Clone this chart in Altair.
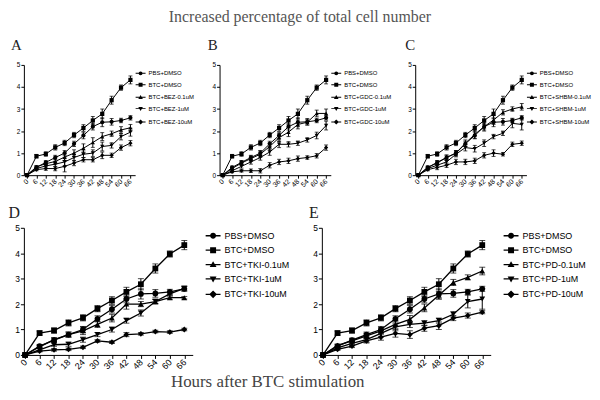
import altair as alt
import pandas as pd

hours = [0, 6, 12, 18, 24, 30, 36, 42, 48, 54, 60, 66]

# shared controls
pbs_dmso     = [0, 0.35, 0.58, 0.80, 1.00, 1.42, 1.80, 2.20, 2.40, 2.42, 2.48, 2.60]
pbs_dmso_err = [0, 0.06, 0.08, 0.10, 0.12, 0.12, 0.15, 0.15, 0.20, 0.15, 0.10, 0.10]
btc_dmso     = [0, 0.86, 0.96, 1.26, 1.46, 1.82, 2.14, 2.48, 2.78, 3.40, 3.97, 4.32]
btc_dmso_err = [0, 0.08, 0.10, 0.12, 0.12, 0.12, 0.15, 0.18, 0.22, 0.18, 0.12, 0.18]

# A: BEZ
bez_01     = [0, 0.38, 0.52, 0.62, 0.82, 1.00, 1.22, 1.48, 1.75, 1.88, 2.05, 2.15]
bez_01_err = [0, 0.06, 0.10, 0.12, 0.15, 0.15, 0.20, 0.22, 0.18, 0.12, 0.15, 0.15]
bez_1      = [0, 0.30, 0.42, 0.50, 0.60, 0.80, 0.95, 1.00, 1.30, 1.35, 1.75, 1.95]
bez_1_err  = [0, 0.06, 0.10, 0.12, 0.18, 0.15, 0.15, 0.15, 0.20, 0.12, 0.15, 0.18]
bez_10     = [0, 0.25, 0.30, 0.30, 0.40, 0.55, 0.70, 0.70, 0.90, 0.90, 1.25, 1.45]
bez_10_err = [0, 0.05, 0.08, 0.10, 0.25, 0.12, 0.10, 0.10, 0.15, 0.10, 0.12, 0.12]

# B: GDC
gdc_01     = [0, 0.30, 0.55, 0.75, 0.95, 1.30, 1.70, 1.95, 2.30, 2.40, 2.80, 2.80]
gdc_01_err = [0, 0.06, 0.10, 0.12, 0.15, 0.15, 0.18, 0.20, 0.20, 0.12, 0.15, 0.20]
gdc_1      = [0, 0.20, 0.40, 0.60, 0.80, 1.05, 1.40, 1.40, 1.45, 1.60, 1.80, 2.25]
gdc_1_err  = [0, 0.05, 0.08, 0.10, 0.12, 0.15, 0.15, 0.12, 0.10, 0.10, 0.15, 0.20]
gdc_10     = [0, 0.15, 0.20, 0.20, 0.20, 0.45, 0.60, 0.65, 0.75, 0.80, 0.88, 1.25]
gdc_10_err = [0, 0.04, 0.06, 0.08, 0.10, 0.12, 0.12, 0.12, 0.12, 0.08, 0.10, 0.12]

# C: SHBM
shbm_01     = [0, 0.35, 0.55, 0.80, 1.00, 1.45, 1.85, 2.20, 2.50, 2.85, 3.00, 3.10]
shbm_01_err = [0, 0.06, 0.10, 0.12, 0.12, 0.15, 0.18, 0.20, 0.20, 0.12, 0.10, 0.15]
shbm_1      = [0, 0.30, 0.45, 0.60, 0.95, 1.25, 1.20, 1.45, 1.75, 1.90, 2.35, 2.30]
shbm_1_err  = [0, 0.06, 0.10, 0.10, 0.12, 0.15, 0.15, 0.15, 0.10, 0.10, 0.20, 0.25]
shbm_10     = [0, 0.25, 0.35, 0.45, 0.60, 0.60, 0.65, 0.90, 1.00, 0.95, 1.40, 1.45]
shbm_10_err = [0, 0.05, 0.10, 0.10, 0.12, 0.12, 0.12, 0.12, 0.15, 0.08, 0.10, 0.10]

# D: TKI
tki_01     = [0, 0.32, 0.60, 0.80, 0.95, 1.20, 1.45, 2.00, 2.00, 2.10, 2.25, 2.25]
tki_01_err = [0, 0.05, 0.08, 0.10, 0.15, 0.12, 0.15, 0.20, 0.10, 0.08, 0.06, 0.05]
tki_1      = [0, 0.20, 0.40, 0.42, 0.60, 0.80, 1.00, 1.35, 1.65, 2.10, 2.40, 2.62]
tki_1_err  = [0, 0.05, 0.06, 0.08, 0.10, 0.08, 0.10, 0.10, 0.12, 0.10, 0.06, 0.08]
tki_10     = [0, 0.15, 0.20, 0.22, 0.30, 0.55, 0.50, 0.80, 0.83, 0.92, 0.90, 1.00]
tki_10_err = [0, 0.03, 0.05, 0.05, 0.05, 0.05, 0.05, 0.08, 0.05, 0.05, 0.05, 0.05]

# E: PD
pd_01     = [0, 0.38, 0.55, 0.75, 0.95, 1.20, 1.40, 1.85, 2.35, 2.85, 3.05, 3.30]
pd_01_err = [0, 0.05, 0.08, 0.10, 0.12, 0.15, 0.15, 0.15, 0.15, 0.12, 0.10, 0.15]
pd_1      = [0, 0.28, 0.45, 0.60, 0.85, 1.10, 1.20, 1.25, 1.35, 1.60, 2.10, 2.20]
pd_1_err  = [0, 0.05, 0.08, 0.10, 0.12, 0.15, 0.12, 0.10, 0.10, 0.10, 0.25, 0.40]
pd_10     = [0, 0.22, 0.35, 0.55, 0.70, 0.85, 0.80, 1.05, 1.15, 1.45, 1.55, 1.68]
pd_10_err = [0, 0.04, 0.06, 0.08, 0.12, 0.15, 0.15, 0.12, 0.15, 0.10, 0.10, 0.06]

SANS = "Liberation Sans"
SERIF = "Liberation Serif"

MARKERS = ["circle", "square", "triangle-up", "triangle-down", "diamond"]
# legend glyphs: a thin filled bar (the connecting line) plus the marker, all clockwise
BAR_TOP = "M-2.5,-0.25H2.5V0.25H-2.5Z"
BAR_BOT = "M-2.5,-0.22H2.5V0.22H-2.5Z"
GLYPHS = [
    "M1,0A1,1,0,1,1,-1,0A1,1,0,1,1,1,0Z",
    "M-1,-1H1V1H-1Z",
    "M0,-1.15L1.15,0.85H-1.15Z",
    "M0,1.15L-1.15,-0.85H1.15Z",
    "M0,-1.3L1.3,0L0,1.3L-1.3,0Z",
]

TOP = dict(w=112, h=111, xdom=[-2, 69], xfs=7, yfs=6.5, tick=3, ms=18, sw=1.0, cap=4,
           lsize=16, lfs=6.0, lx=114.5, ly=5.5, lrow=3.5, loff=5.0, bar=BAR_TOP,
           tfs=15, toff=-3)
BOT = dict(w=170, h=128, xdom=[-0.5, 69.5], xfs=9, yfs=8.5, tick=3.5, ms=34, sw=1.3, cap=6,
           lsize=36, lfs=9.0, lx=186, ly=3.5, lrow=3.5, loff=7, bar=BAR_BOT,
           tfs=16, toff=-10)


def panel(letter, drug, treat_vals, treat_errs, st, tdx, xtitle=None):
    names = ["PBS+DMSO", "BTC+DMSO", f"BTC+{drug}-0.1uM", f"BTC+{drug}-1uM", f"BTC+{drug}-10uM"]
    vals = [pbs_dmso, btc_dmso] + treat_vals
    errs = [pbs_dmso_err, btc_dmso_err] + treat_errs
    rows = []
    for n, mk, v, e in zip(names, MARKERS, vals, errs):
        for hr, vv, ee in zip(hours, v, e):
            rows.append({"series": n, "mk": mk, "hour": hr, "value": vv,
                         "lo": max(vv - ee, 0), "hi": vv + ee})
    df = pd.DataFrame(rows)

    xaxis_kw = dict(values=hours, labelAngle=315, labelAlign="right", labelBaseline="middle",
                    labelFontSize=st["xfs"], labelFont=SANS, labelColor="black",
                    labelPadding=2, tickSize=st["tick"], tickColor="black", domainColor="black",
                    labelOverlap=False, labelFlush=False, grid=False)
    if xtitle:
        xaxis_kw.update(title=xtitle, titleFont=SERIF, titleFontSize=17, titleFontWeight="normal",
                        titleColor="#444444", titleX=245, titleY=32,
                        titleAlign="center", titleBaseline="alphabetic")
    x = alt.X("hour:Q", scale=alt.Scale(domain=st["xdom"], nice=False, zero=False),
              axis=alt.Axis(**xaxis_kw), title=xtitle)
    yaxis = alt.Axis(values=[0, 1, 2, 3, 4, 5], labelFontSize=st["yfs"], labelFont=SANS,
                     labelColor="black", labelPadding=1, tickSize=st["tick"], tickColor="black",
                     domainColor="black", grid=False, labelFlush=False)
    yscale = alt.Scale(domain=[0, 5], nice=False)

    base = alt.Chart(df)
    lines = base.mark_line(color="black", strokeWidth=st["sw"]).encode(
        x=x, y=alt.Y("value:Q", scale=yscale, axis=yaxis, title=None), detail="series:N")
    bars = base.mark_errorbar(color="black", thickness=1,
                              ticks={"size": st["cap"], "thickness": 1, "color": "black"}).encode(
        x=x, y=alt.Y("lo:Q", scale=yscale, axis=yaxis, title=None), y2="hi:Q")
    pts = base.mark_point(filled=True, color="black", opacity=1, size=st["ms"]).encode(
        x=x, y=alt.Y("value:Q", scale=yscale, axis=yaxis, title=None),
        shape=alt.Shape("mk:N", scale=None), detail="series:N")
    legend_paths = [st["bar"] + g for g in GLYPHS]
    leg = base.transform_filter("datum.hour < -100").mark_point(
        filled=True, fill="black", stroke="black", strokeWidth=1, opacity=1,
        size=st["lsize"]).encode(
        x=x, y=alt.Y("value:Q", scale=yscale, axis=yaxis, title=None),
        shape=alt.Shape("series:N", scale=alt.Scale(domain=names, range=legend_paths),
                        legend=alt.Legend(title=None, orient="none", legendX=st["lx"],
                                          legendY=st["ly"], direction="vertical",
                                          symbolSize=st["lsize"], symbolFillColor="black",
                                          symbolStrokeColor="black", symbolStrokeWidth=1,
                                          symbolOpacity=1, labelFont=SANS,
                                          labelFontSize=st["lfs"], labelColor="black",
                                          labelBaseline="middle", labelLimit=300,
                                          rowPadding=st["lrow"], labelOffset=st["loff"],
                                          padding=0)))
    return alt.layer(lines, bars, pts, leg).properties(
        width=st["w"], height=st["h"],
        title=alt.TitleParams(letter, anchor="start", frame="group", font=SERIF,
                              fontSize=st["tfs"], fontWeight="normal", color="#222222",
                              dx=tdx, offset=st["toff"], baseline="alphabetic"))


pA = panel("A", "BEZ", [bez_01, bez_1, bez_10], [bez_01_err, bez_1_err, bez_10_err], TOP, -13)
pB = panel("B", "GDC", [gdc_01, gdc_1, gdc_10], [gdc_01_err, gdc_1_err, gdc_10_err], TOP, -12)
pC = panel("C", "SHBM", [shbm_01, shbm_1, shbm_10], [shbm_01_err, shbm_1_err, shbm_10_err], TOP, -10)
pD = panel("D", "TKI", [tki_01, tki_1, tki_10], [tki_01_err, tki_1_err, tki_10_err], BOT, -15.6,
           xtitle="Hours after BTC stimulation")
pE = panel("E", "PD", [pd_01, pd_1, pd_10], [pd_01_err, pd_1_err, pd_10_err], BOT, -13)

top_row = alt.hconcat(pA, pB, pC, spacing=85, bounds="flush").resolve_scale(
    x="independent", y="independent", shape="independent")
bot_row = alt.hconcat(pD, pE, spacing=130, bounds="flush").resolve_scale(
    x="independent", y="independent", shape="independent")

chart = alt.vconcat(top_row, bot_row, spacing=17).resolve_scale(
    x="independent", y="independent", shape="independent").properties(
    padding={"left": 0, "top": 0, "right": 0, "bottom": 0},
    title=alt.TitleParams("Increased percentage of total cell number", font=SERIF, fontSize=16,
                          fontWeight="normal", color="#555555", anchor="middle", offset=13)
).configure_view(strokeWidth=0)

chart.save("out.html", embed_options={"renderer": "svg", "actions": False})
